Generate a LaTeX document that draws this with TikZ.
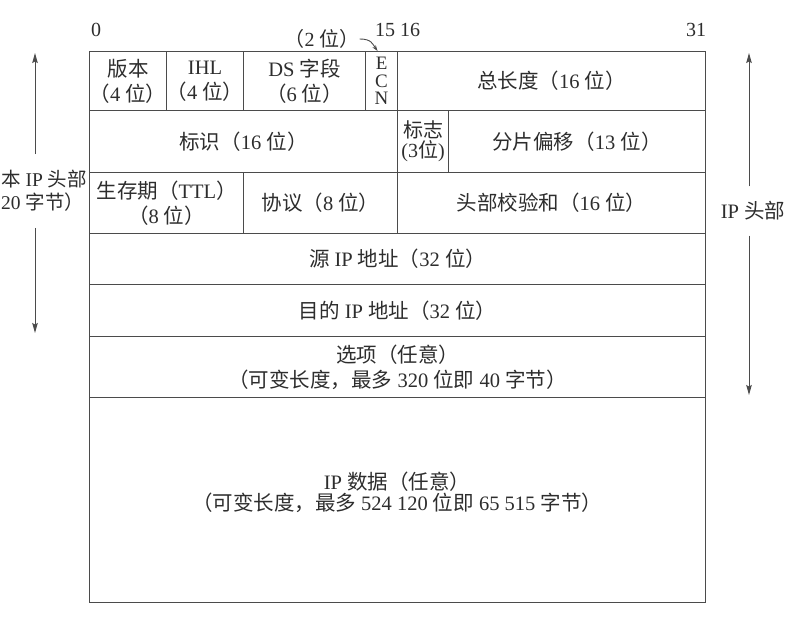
\documentclass[tikz,border=0pt]{standalone}
\usepackage{fontspec}
\setmainfont{Liberation Serif}
\newfontfamily\cjkfont{Noto Sans CJK SC}
\newcommand{\zh}[1]{{\cjkfont #1}}
\usetikzlibrary{arrows.meta}
\definecolor{inkgray}{RGB}{45,45,45}
\definecolor{linegray}{RGB}{75,75,75}

\begin{document}
\begin{tikzpicture}[x=1pt, y=-1pt,
    cell/.style={draw=linegray, line width=1.1pt, anchor=north west, inner sep=0pt,
        align=center, text=inkgray, font=\fontsize{20.5}{25}\selectfont},
    celltext/.style={align=center, text=inkgray, inner sep=0pt, font=\fontsize{20.5}{21}\selectfont},
    bitnum/.style={text=inkgray, inner sep=0pt, font=\fontsize{20}{22}\selectfont},
    sidelabel/.style={text=inkgray, inner xsep=0pt, inner ysep=16pt, font=\fontsize{20.5}{23}\selectfont},
    sidearrow/.style={draw=linegray, line width=1pt, -{Stealth[length=10pt, width=5.5pt, inset=1.5pt]}},
    notearrow/.style={draw=linegray, line width=0.9pt, -{Stealth[length=6pt, width=4pt]}}]

    \useasboundingbox (0,0) rectangle (798,616);

    % bit positions
    \node[bitnum] (b0)  at (96,30)  {0};
    \node[bitnum] (b15) at (385,30) {15};
    \node[bitnum] (b16) at (410,30) {16};
    \node[bitnum] (b31) at (696,30) {31};

    % first word
    \node[cell, minimum width=77,  minimum height=59] (ver)    at (89,51)  {\zh{版本}\\\zh{（}4 \zh{位）}};
    \node[cell, minimum width=77,  minimum height=59] (ihl)    at (166,51) {IHL\\\zh{（}4 \zh{位）}};
    \node[cell, minimum width=122, minimum height=59] (ds)     at (243,51) {DS \zh{字段}\\\zh{（}6 \zh{位）}};
    \node[cell, minimum width=32,  minimum height=59, font=\fontsize{19}{17.5}\selectfont] (ecn) at (365,51) {E\\C\\N};
    \node[cell, minimum width=308, minimum height=59] (totlen) at (397,51) {\zh{总长度（}16 \zh{位）}};

    % second word
    \node[cell, minimum width=308, minimum height=62] (ident)   at (89,110)  {\zh{标识（}16 \zh{位）}};
    \node[cell, minimum width=51,  minimum height=62, font=\fontsize{20}{20}\selectfont] (flags) at (397,110) {\zh{标志}\\(3\zh{位})};
    \node[cell, minimum width=257, minimum height=62] (fragoff) at (448,110) {\zh{分片偏移（}13 \zh{位）}};

    % third word
    \node[cell, minimum width=154, minimum height=61] (ttl)    at (89,172)  {\zh{生存期（}TTL\zh{）}\\\zh{（}8 \zh{位）}};
    \node[cell, minimum width=154, minimum height=61] (proto)  at (243,172) {\zh{协议（}8 \zh{位）}};
    \node[cell, minimum width=308, minimum height=61] (chksum) at (397,172) {\zh{头部校验和（}16 \zh{位）}};

    % addresses, options, data
    \node[cell, minimum width=616, minimum height=51]  (srcip) at (89,233) {\zh{源} IP \zh{地址（}32 \zh{位）}};
    \node[cell, minimum width=616, minimum height=52]  (dstip) at (89,284) {\zh{目的} IP \zh{地址（}32 \zh{位）}};
    \node[cell, minimum width=616, minimum height=61]  (opts)  at (89,336) {\zh{选项（任意）}\\\zh{（可变长度，最多} 320 \zh{位即} 40 \zh{字节）}};
    \node[cell, minimum width=616, minimum height=205] (data)  at (89,397) {};
    \node[celltext] (datatext) at (397,492) {IP \zh{数据（任意）}\\\zh{（可变长度，最多} 524 120 \zh{位即} 65 515 \zh{字节）}};

    % ECN note
    \node[bitnum] (ecnnote) at (322,39) {\zh{（}2 \zh{位）}};
    \draw[notearrow] (ecnnote.east) .. controls +(12,0) and +(-5,-7) .. ([xshift=-4pt]ecn.north);

    % header lengths
    \coordinate (lt) at (35,53);
    \coordinate (lb) at (35,333);
    \coordinate (rt) at (749,53);
    \coordinate (rb) at (749,395);
    \node[sidelabel, anchor=west, align=left, font=\fontsize{19.5}{23}\selectfont] (basehdr) at (1,191) {\zh{本} IP \zh{头部}\\20 \zh{字节）}};
    \node[sidelabel, inner ysep=15pt] (iphdr) at (753,211) {IP \zh{头部}};
    \draw[sidearrow] (lt |- basehdr.north) -- (lt);
    \draw[sidearrow] (lb |- basehdr.south) -- (lb);
    \draw[sidearrow] (rt |- iphdr.north) -- (rt);
    \draw[sidearrow] (rb |- iphdr.south) -- (rb);

\end{tikzpicture}
\end{document}
